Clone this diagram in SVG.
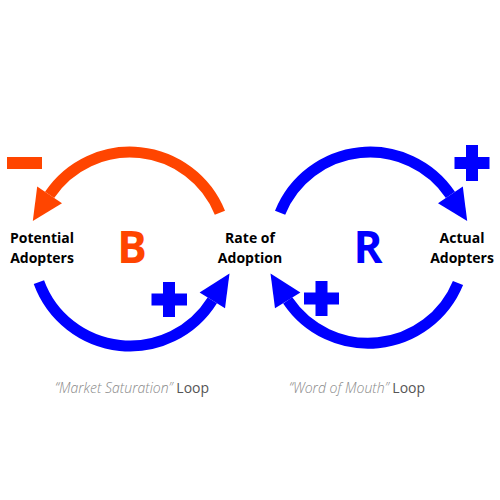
<svg xmlns="http://www.w3.org/2000/svg" width="500" height="500" viewBox="0 0 500 500">
<style>
.arc{fill:none;stroke-width:11}
.o{stroke:#FF4500}
.b{stroke:#0000FF}
.of{fill:#FF4500}
.bf{fill:#0000FF}
.lbl{font-family:"Open Sans","Liberation Sans",sans-serif;font-weight:700;font-size:14px;fill:#000;text-anchor:middle}
.big{font-family:"Open Sans","Liberation Sans",sans-serif;font-weight:700;font-size:44px;text-anchor:middle}
.cap{font-family:"Open Sans","Liberation Sans",sans-serif;font-size:14px;text-anchor:middle}
.it{font-style:italic;font-weight:300;fill:#888}
.lp{fill:#555}
</style>
<rect width="500" height="500" fill="#fff"/>
<g id="connectors">
<path class="arc o" d="M219.9,212.7 A97,97 0 0 0 49.6,194.8"/>
<polygon class="of" points="37.2,186.4 62,203.2 32.8,221"/>
<path class="arc b" d="M38.9,282.2 A97,97 0 0 0 212.3,300.4"/>
<polygon class="bf" points="225,308.3 199.6,292.5 229.5,273.5"/>
<path class="arc b" d="M280.1,212.7 A97,97 0 0 1 450.4,194.8"/>
<polygon class="bf" points="462.8,186.4 438,203.2 467.2,221"/>
<path class="arc b" d="M458,283 A97,97 0 0 1 287.7,300.4"/>
<polygon class="bf" points="275,308.3 300.4,292.5 270.5,273.5"/>
</g>
<g id="signs">
<rect class="of" x="7" y="157" width="35" height="12"/>
<path class="bf" d="M163,282h12v11.5h12v12h-12v11.5h-12v-11.5h-11.5v-12h11.5z"/>
<path class="bf" d="M466,145h12v12h11.5v12h-11.5v12h-12v-12h-11.5v-12h11.5z"/>
<path class="bf" d="M315.5,281h12v11.5h11.5v12h-11.5v11.5h-12v-11.5h-11.5v-12h11.5z"/>
</g>
<g id="potential-adopters">
<text class="lbl" x="42" y="243">Potential</text>
<text class="lbl" x="42" y="263">Adopters</text>
</g>
<g id="rate-of-adoption">
<text class="lbl" x="250" y="243">Rate of</text>
<text class="lbl" x="250" y="263">Adoption</text>
</g>
<g id="actual-adopters">
<text class="lbl" x="462" y="243">Actual</text>
<text class="lbl" x="462" y="263">Adopters</text>
</g>
<g id="loop-b"><text class="big" x="132" y="263" fill="#FF4500">B</text></g>
<g id="loop-r"><text class="big" x="368" y="263" fill="#0000FF">R</text></g>
<g id="captions">
<text class="cap" x="132" y="393"><tspan class="it">“Market Saturation”</tspan><tspan class="lp"> Loop</tspan></text>
<text class="cap" x="357" y="393"><tspan class="it">“Word of Mouth”</tspan><tspan class="lp"> Loop</tspan></text>
</g>
</svg>
